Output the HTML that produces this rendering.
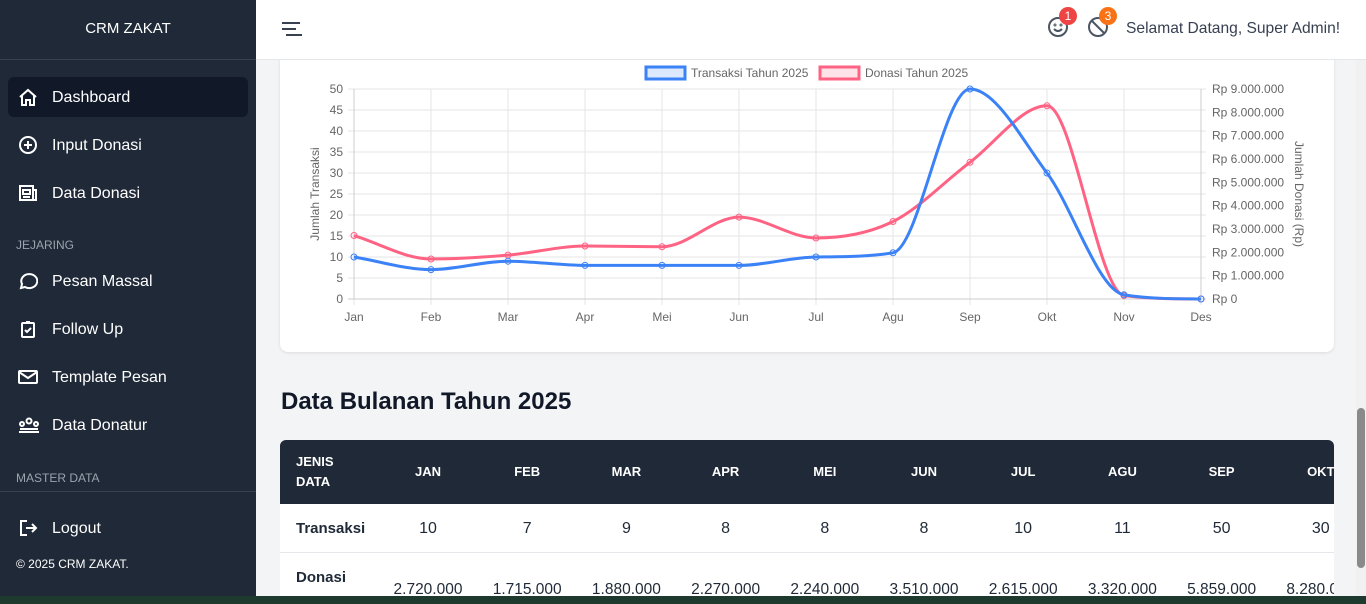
<!DOCTYPE html>
<html><head><meta charset="utf-8"><style>
*{box-sizing:border-box;margin:0;padding:0}
body{width:1366px;height:604px;overflow:hidden;font-family:"Liberation Sans","DejaVu Sans",sans-serif;background:#f3f4f6;position:relative}
.sb{position:absolute;left:0;top:0;width:256px;height:596px;background:#1f2937;color:#fff;z-index:3}
.sb .brand{height:60px;line-height:58px;text-align:center;font-size:15px;border-bottom:1px solid #374151}
.item{position:absolute;left:8px;width:240px;height:40px;border-radius:6px;font-size:16px;line-height:42px;padding-left:44px}
.item svg{position:absolute;left:10px;top:10px}
.item.act{background:#111827}
.sec{position:absolute;left:16px;font-size:12px;color:#9ca3af}
.hdr{position:absolute;left:256px;top:0;width:1110px;height:60px;background:#fff;border-bottom:1px solid #e5e7eb;z-index:2}
.card{position:absolute;left:280px;top:30px;width:1054px;height:322px;background:#fff;border-radius:8px;box-shadow:0 1px 3px rgba(0,0,0,.1)}
h2{position:absolute;left:281px;top:388px;font-size:24px;font-weight:bold;color:#111827}
.tbl{position:absolute;left:280px;top:440px;width:1054px;height:160px;background:#fff;border-radius:6px 6px 0 0;overflow:hidden}
.th{position:absolute;top:0;left:0;width:100%;height:64px;background:#1f2937}
.c{position:absolute;text-align:center;width:80px;font-size:14px}
.badge{position:absolute;width:18px;height:18px;border-radius:9px;color:#fff;font-size:12px;text-align:center;line-height:18px}
</style></head><body>
<div class="sb">
<div class="brand">CRM ZAKAT</div>
<div class="item act" style="top:77px"><svg width="20" height="20" viewBox="0 0 20 20" fill="none" stroke="#fff" stroke-width="2"><path d="M2 10L10 3l8 7M4 8v10h4v-5h4v5h4V8"/></svg>Dashboard</div>
<div class="item" style="top:125px"><svg width="20" height="20" viewBox="0 0 20 20" fill="none" stroke="#fff" stroke-width="2"><circle cx="10" cy="10" r="8"/><path d="M10 6v8M6 10h8"/></svg>Input Donasi</div>
<div class="item" style="top:173px"><svg width="20" height="20" viewBox="0 0 20 20" fill="none" stroke="#fff" stroke-width="2"><rect x="2" y="3" width="13" height="14"/><path d="M15 7h3v10h-3M5 7h7v4H5zM5 14h7"/></svg>Data Donasi</div>
<div class="sec" style="top:238px">JEJARING</div>
<div class="item" style="top:261px"><svg width="20" height="20" viewBox="0 0 20 20" fill="none" stroke="#fff" stroke-width="2"><path d="M3 17l1-4a8 7 0 1 1 3 3z"/></svg>Pesan Massal</div>
<div class="item" style="top:309px"><svg width="20" height="20" viewBox="0 0 20 20" fill="none" stroke="#fff" stroke-width="2"><rect x="4" y="4" width="12" height="14" rx="1"/><path d="M7 11l2 2 4-4M8 3h4"/></svg>Follow Up</div>
<div class="item" style="top:357px"><svg width="20" height="20" viewBox="0 0 20 20" fill="none" stroke="#fff" stroke-width="2"><rect x="1" y="4" width="18" height="12" rx="1"/><path d="M1 5l9 6 9-6"/></svg>Template Pesan</div>
<div class="item" style="top:405px"><svg width="22" height="20" viewBox="0 0 22 20" fill="none" stroke="#fff" stroke-width="2"><circle cx="11" cy="6" r="2.5"/><circle cx="4" cy="9" r="2"/><circle cx="18" cy="9" r="2"/><path d="M1 17h20M2 14h18"/></svg>Data Donatur</div>
<div class="sec" style="top:471px">MASTER DATA</div>
<div style="position:absolute;top:491px;left:0;width:256px;border-top:1px solid #374151"></div>
<div class="item" style="top:508px"><svg width="20" height="20" viewBox="0 0 20 20" fill="none" stroke="#fff" stroke-width="2"><path d="M9 3H3v14h6M8 10h10M14 6l4 4-4 4"/></svg>Logout</div>
<div style="position:absolute;left:16px;top:557px;font-size:12px">© 2025 CRM ZAKAT.</div>
</div>
<div class="hdr">
<svg style="position:absolute;left:26px;top:21px" width="20" height="16"><path d="M0 2h18M0 8h14M4 14h16" stroke="#374151" stroke-width="2"/></svg>
<svg style="position:absolute;left:791px;top:16px" width="22" height="22" fill="none" stroke="#4b5563" stroke-width="2"><circle cx="11" cy="11" r="9"/><path d="M7 13q4 4 8 0"/><circle cx="8" cy="9" r=".5"/><circle cx="14" cy="9" r=".5"/></svg>
<div class="badge" style="left:803px;top:7px;background:#ef4444">1</div>
<svg style="position:absolute;left:831px;top:16px" width="22" height="22" fill="none" stroke="#4b5563" stroke-width="2"><circle cx="11" cy="11" r="9"/><path d="M5 5l12 12"/></svg>
<div class="badge" style="left:843px;top:7px;background:#f97316">3</div>
<div style="position:absolute;left:870px;top:20px;font-size:15.6px;color:#374151">Selamat Datang, Super Admin!</div>
</div>
<div class="card"></div>
<svg id="ch" style="position:absolute;left:0;top:0" width="1366" height="352" font-family="Liberation Sans, sans-serif" font-size="12" fill="#666"></svg>
<h2>Data Bulanan Tahun 2025</h2>
<div class="tbl"><div class="th"></div><div id="tb"></div></div>
<div style="position:absolute;left:1356px;top:60px;width:10px;height:536px;background:#f1f1f1"></div>
<div style="position:absolute;left:1357px;top:408px;width:8px;height:160px;background:#8a8a8a;border-radius:4px"></div>
<div style="position:absolute;left:0;top:596px;width:1366px;height:8px;background:#1e3a2e;z-index:4"></div>
<script>
var s='',X=i=>354+77*i,ys=v=>299-v*4.2,yr=v=>299-v*23.333;
for(var v=0;v<=50;v+=5){var y=ys(v);s+=`<line x1="348" x2="1206" y1="${y}" y2="${y}" stroke="#e5e5e5"/><text x="343" y="${y+4}" text-anchor="end">${v}</text>`;}
for(var v=0;v<=9;v++){var y=yr(v);s+=`<text x="1212" y="${y+4}">Rp ${v?v+'.000.000':0}</text>`;}
var M=['Jan','Feb','Mar','Apr','Mei','Jun','Jul','Agu','Sep','Okt','Nov','Des'];
M.forEach((m,i)=>{s+=`<line x1="${X(i)}" x2="${X(i)}" y1="89" y2="305" stroke="#e5e5e5"/><text x="${X(i)}" y="321" text-anchor="middle">${m}</text>`;});
s+=`<line x1="354" x2="354" y1="89" y2="299" stroke="#ccc"/><line x1="1201" x2="1201" y1="89" y2="299" stroke="#ccc"/><line x1="348" x2="1206" y1="299" y2="299" stroke="#ccc"/>`;
s+=`<text transform="translate(319,194) rotate(-90)" text-anchor="middle">Jumlah Transaksi</text><text transform="translate(1295,194) rotate(90)" text-anchor="middle">Jumlah Donasi (Rp)</text>`;
s+=`<rect x="646" y="67" width="39" height="12" fill="#dbe8fd" stroke="#3b82f6" stroke-width="3"/><text x="691" y="77">Transaksi Tahun 2025</text><rect x="820" y="67" width="39" height="12" fill="#fde2e7" stroke="#ff6384" stroke-width="3"/><text x="865" y="77">Donasi Tahun 2025</text>`;
function path(p,c){var n=p.length,h=77,dl=[],m=[];
for(var i=0;i<n-1;i++)dl.push((p[i+1][1]-p[i][1])/h);
m[0]=dl[0];m[n-1]=dl[n-2];
for(var i=1;i<n-1;i++){m[i]=(dl[i-1]*dl[i]<=0)?0:(dl[i-1]+dl[i])/2;}
for(var i=0;i<n-1;i++){if(dl[i]==0){m[i]=0;m[i+1]=0;continue;}var a=m[i]/dl[i],b=m[i+1]/dl[i],q=a*a+b*b;if(q>9){var t=3/Math.sqrt(q);m[i]=t*a*dl[i];m[i+1]=t*b*dl[i];}}
var d=`M${p[0][0]},${p[0][1]}`;
for(var i=0;i<n-1;i++){d+=` C${p[i][0]+h/3},${p[i][1]+m[i]*h/3} ${p[i+1][0]-h/3},${p[i+1][1]-m[i+1]*h/3} ${p[i+1][0]},${p[i+1][1]}`;}
var o=`<path d="${d}" fill="none" stroke="${c}" stroke-width="3"/>`;p.forEach(q=>o+=`<circle cx="${q[0]}" cy="${q[1]}" r="3" fill="none" stroke="${c}" stroke-width="1"/>`);return o;}
var B=[10,7,9,8,8,8,10,11,50,30,1,0],D=[2.72,1.715,1.88,2.27,2.24,3.51,2.615,3.32,5.859,8.28,0.15,0];
s+=path(D.map((v,i)=>[X(i),yr(v)]),'#ff6384');s+=path(B.map((v,i)=>[X(i),ys(v)]),'#3b82f6');
document.getElementById('ch').innerHTML=s;
var H=['JAN','FEB','MAR','APR','MEI','JUN','JUL','AGU','SEP','OKT'],T=[10,7,9,8,8,8,10,11,50,30],Dn=['2.720.000','1.715.000','1.880.000','2.270.000','2.240.000','3.510.000','2.615.000','3.320.000','5.859.000','8.280.000'];
var t=`<div style="position:absolute;left:16px;top:12px;color:#fff;font-size:13px;font-weight:bold;line-height:20px">JENIS<br>DATA</div><div style="position:absolute;left:16px;top:80px;font-size:15px;font-weight:bold;color:#1f2937">Transaksi</div><div style="position:absolute;left:0;top:112px;width:100%;border-top:1px solid #e5e7eb"></div><div style="position:absolute;left:16px;top:129px;font-size:15px;font-weight:bold;color:#1f2937">Donasi</div>`;
H.forEach((h,i)=>{var cx=148+99.2*i;t+=`<div class="c" style="left:${cx-40}px;top:24px;color:#fff;font-weight:bold;font-size:13px">${h}</div><div class="c" style="left:${cx-40}px;top:80px;font-size:16px;color:#1f2937">${T[i]}</div><div class="c" style="left:${cx-50}px;width:100px;top:141px;font-size:15.5px;color:#1f2937">${Dn[i]}</div>`;});
document.getElementById('tb').innerHTML=t;
</script>
</body></html>
